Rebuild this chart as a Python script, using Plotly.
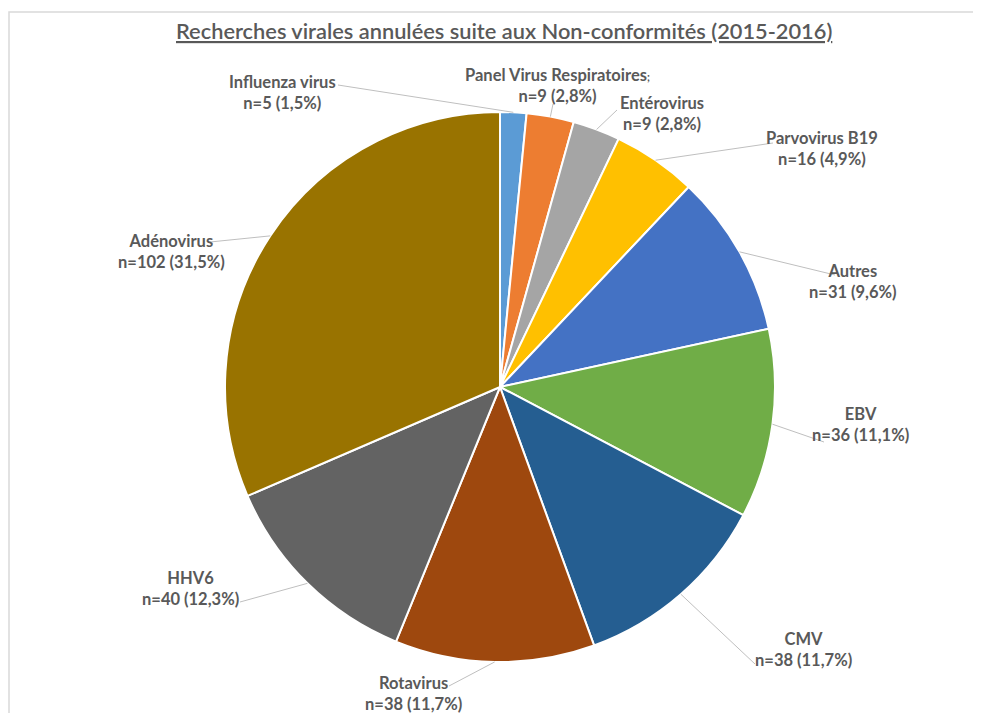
import math
import plotly.graph_objects as go

# ---- data ----
labels = ["Influenza virus", "Panel Virus Respiratoires", "Entérovirus", "Parvovirus B19",
          "Autres", "EBV", "CMV", "Rotavirus", "HHV6", "Adénovirus"]
values = [5, 9, 9, 16, 31, 36, 38, 38, 40, 102]
label_suffix = {"Panel Virus Respiratoires": ";"}
colors = ["#5B9BD5", "#ED7D31", "#A5A5A5", "#FFC000", "#4472C4",
          "#70AD47", "#255E91", "#9E480E", "#636363", "#997300"]

title = "Recherches virales annulées suite aux Non-conformités (2015-2016)"

# ---- layout (page pixels) ----
W, H = 981, 713
PAGE_OFF = 8  # default body margin of the html page
CX, CY, R = 500, 387, 275
# label text centre and leader-line end, in pixels
label_layout = {
    "Influenza virus": (282, 92, 338, 85),
    "Panel Virus Respiratoires": (557, 85, 553, 104),
    "Entérovirus": (662, 113, 617, 110),
    "Parvovirus B19": (822, 148, 773, 143),
    "Autres": (853, 281, 835, 275),
    "EBV": (860, 424, 824, 442),
    "CMV": (803, 649, 755, 664),
    "Rotavirus": (413, 693, 449, 686),
    "HHV6": (190, 588, 240, 602),
    "Adénovirus": (171, 251, 210, 242),
}

def px(x):
    return (x - PAGE_OFF) / W

def py(y):
    return 1 - (y - PAGE_OFF) / H

total = sum(values)

fig = go.Figure(go.Pie(
    labels=labels, values=values, sort=False, direction="clockwise", rotation=0,
    marker=dict(colors=colors, line=dict(color="white", width=2)),
    textinfo="none", hoverinfo="label+value+percent", showlegend=False,
    domain=dict(x=[px(CX - R), px(CX + R)], y=[py(CY + R), py(CY - R)]),
))

shapes = []
annotations = []
cum = 0
for lab, v in zip(labels, values):
    mid = (cum + v / 2) / total * 2 * math.pi
    cum += v
    ex = CX + R * math.sin(mid)
    ey = CY - R * math.cos(mid)
    tx, ty, lx, ly = label_layout[lab]
    shapes.append(dict(type="line", xref="paper", yref="paper",
                       x0=px(ex), y0=py(ey), x1=px(lx), y1=py(ly),
                       line=dict(color="#BFBFBF", width=1)))
    pct = f"{v / total * 100:.1f}".replace(".", ",")
    name = lab + (f"<span style='font-size:11px'>{label_suffix[lab]}</span>" if lab in label_suffix else "")
    annotations.append(dict(
        x=px(tx), y=py(ty), xref="paper", yref="paper", showarrow=False,
        text=f"<b>{name}</b><br><b>n={v} ({pct}%)</b>",
        font=dict(family="Lato, Open Sans, sans-serif", size=16.5, color="#595959"),
        align="center", xanchor="center", yanchor="middle",
    ))

# light frame
shapes.append(dict(type="rect", xref="paper", yref="paper",
                   x0=px(9), y0=-0.02, x1=1.02, y1=py(12),
                   line=dict(color="#D9D9D9", width=1.5), layer="below"))

annotations.append(dict(
    x=px(504), y=py(31), xref="paper", yref="paper", showarrow=False,
    text=f"<u>{title}</u>",
    font=dict(family="Lato, Open Sans, sans-serif", size=21.8, color="#595959", weight=600),
    xanchor="center", yanchor="middle",
))

fig.update_layout(
    width=W, height=H, margin=dict(l=0, r=0, t=0, b=0),
    paper_bgcolor="white", plot_bgcolor="white",
    shapes=shapes, annotations=annotations,
)

fig.write_html("out.html")
